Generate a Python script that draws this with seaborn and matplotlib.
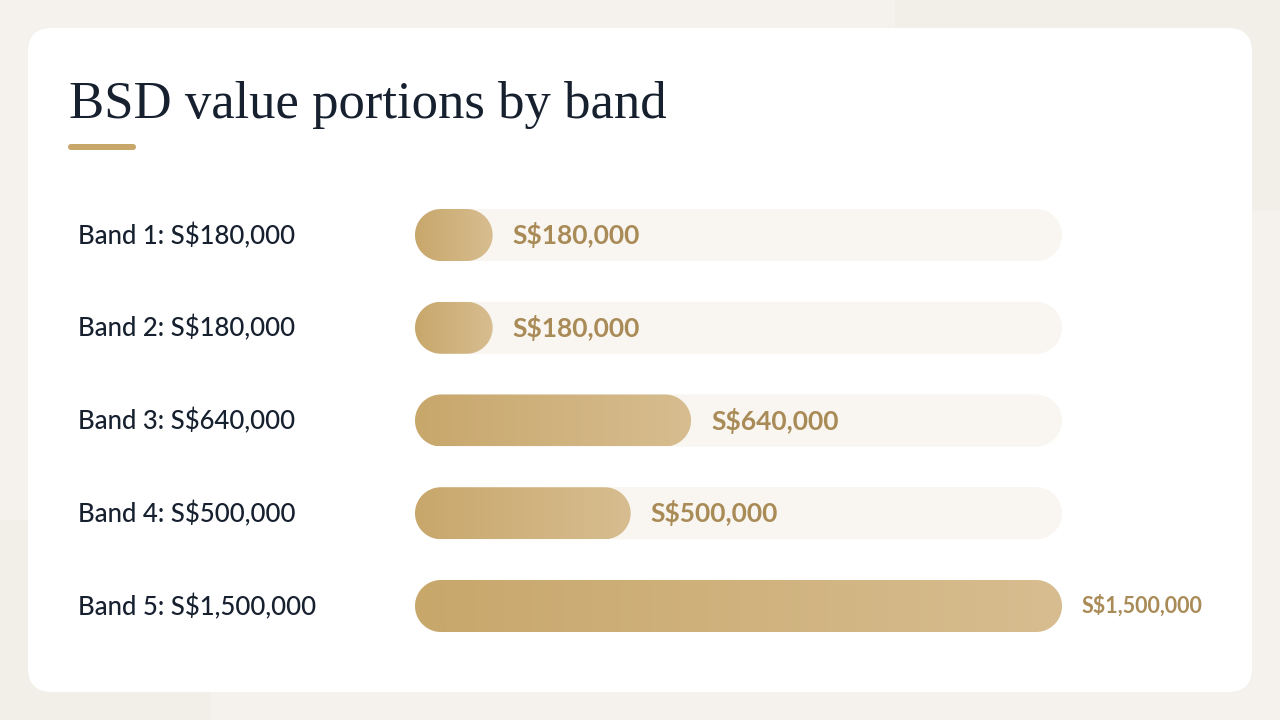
import numpy as np
import pandas as pd
import matplotlib
matplotlib.use("Agg")
import matplotlib.pyplot as plt
import seaborn as sns
from matplotlib.patches import FancyBboxPatch, Polygon
from matplotlib.colors import LinearSegmentedColormap

# Chart data
bands = ["Band 1", "Band 2", "Band 3", "Band 4", "Band 5"]
values = [180000, 180000, 640000, 500000, 1500000]
value_labels = ["S$180,000", "S$180,000", "S$640,000", "S$500,000", "S$1,500,000"]
title = "BSD value portions by band"

max_value = max(values)
df = pd.DataFrame({"band": bands, "value": values, "track": [max_value] * len(bands)})

# Colours
bg_color = "#f5f2ed"
bg_shade = "#f2eee8"
card_color = "#ffffff"
track_color = "#f9f5f0"
gold_dark = "#c8a76b"
gold_light = "#d7bd90"
label_gold = "#a98b57"
navy = "#17202f"

sns.set_theme(style="white")
plt.rcParams["font.family"] = ["Lato", "DejaVu Sans"]

W, H = 1280, 720
fig = plt.figure(figsize=(W / 100, H / 100), dpi=100)
fig.patch.set_facecolor(bg_color)

# Background / card layer in pixel coordinates
bg = fig.add_axes([0, 0, 1, 1])
bg.set_xlim(0, W)
bg.set_ylim(H, 0)
bg.axis("off")
bg.add_patch(FancyBboxPatch((895, -60), 500, 270, boxstyle="round,pad=0,rounding_size=40",
                            fc=bg_shade, ec="none", zorder=0))
bg.add_patch(FancyBboxPatch((-100, 520), 310, 300, boxstyle="round,pad=0,rounding_size=40",
                            fc=bg_shade, ec="none", zorder=0))
bg.add_patch(FancyBboxPatch((28, 28), 1224, 664,
                            boxstyle="round,pad=0,rounding_size=24",
                            fc=card_color, ec="none", zorder=1))
bg.text(69, 118, title, fontsize=38, color=navy, family=["Liberation Serif", "DejaVu Serif"],
        va="baseline", ha="left", zorder=3)
bg.add_patch(FancyBboxPatch((68, 144), 68, 6, boxstyle="round,pad=0,rounding_size=3",
                            fc=gold_dark, ec="none", zorder=3))

# Bar axes placed so that the rows land where the reference has them
track_left, track_right = 415, 1062
row_top, row_bottom = 235, 606
step = (row_bottom - row_top) / (len(bands) - 1)
ax_top = row_top - step / 2
ax_bottom = row_bottom + step / 2
ax = fig.add_axes([track_left / W, (H - ax_bottom) / H,
                   (track_right - track_left) / W, (ax_bottom - ax_top) / H])
ax.patch.set_alpha(0)

bar_h = 52 / step
sns.barplot(data=df, x="track", y="band", orient="h", width=bar_h, color=track_color, ax=ax)
sns.barplot(data=df, x="value", y="band", orient="h", width=bar_h, color=gold_dark, ax=ax)
ax.set_xlim(0, max_value)
ax.set_ylim(len(bands) - 0.5, -0.5)
ax.axis("off")

xpp = max_value / (track_right - track_left)  # data units per pixel (x)
cmap = LinearSegmentedColormap.from_list("gold", [gold_dark, gold_light])
gradient = np.linspace(0, 1, 256).reshape(1, -1)


def pill(x0, y0, w, h, **kw):
    # capsule outline for a bar, half-circle ends in screen space
    yc = y0 + h / 2
    r_y = h / 2
    r_x = (h / 2) * step * xpp  # same radius in pixels, expressed in x data units
    r_x = min(r_x, w / 2)
    t = np.linspace(-np.pi / 2, np.pi / 2, 40)
    right = np.column_stack([x0 + w - r_x + r_x * np.cos(t), yc + r_y * np.sin(t)])
    left = np.column_stack([x0 + r_x - r_x * np.cos(t), yc - r_y * np.sin(t)])
    return Polygon(np.vstack([right, left]), closed=True, **kw)


n = len(bands)
patches = list(ax.patches)
for i, p in enumerate(patches):
    x0, y0, w, h = p.get_x(), p.get_y(), p.get_width(), p.get_height()
    p.set_visible(False)
    is_track = i < n
    rb = pill(x0, y0, w, h, fc=track_color if is_track else "none", ec="none",
              zorder=2 if is_track else 3)
    ax.add_patch(rb)
    if not is_track:
        im = ax.imshow(gradient, extent=[x0, x0 + w, y0 + h, y0], aspect="auto",
                       cmap=cmap, zorder=3, interpolation="bicubic")
        im.set_clip_path(rb)

ax.set_xlim(0, max_value)
ax.set_ylim(len(bands) - 0.5, -0.5)

for i, (band, v, lab) in enumerate(zip(bands, values, value_labels)):
    # left row label
    bg.text(78, row_top + i * step + 9, f"{band}: {lab}", fontsize=18.5, color=navy,
            fontweight="medium", va="baseline", ha="left", zorder=3)
    if v >= max_value:
        ax.text(v + 20 * xpp, i, lab, fontsize=15.5, color=label_gold, fontweight="bold",
                va="center", ha="left", zorder=4, clip_on=False)
    else:
        ax.text(v + 20 * xpp, i, lab, fontsize=19, color=label_gold, fontweight="bold",
                va="center", ha="left", zorder=4)

fig.savefig("out.png", dpi=100, facecolor=fig.get_facecolor())
